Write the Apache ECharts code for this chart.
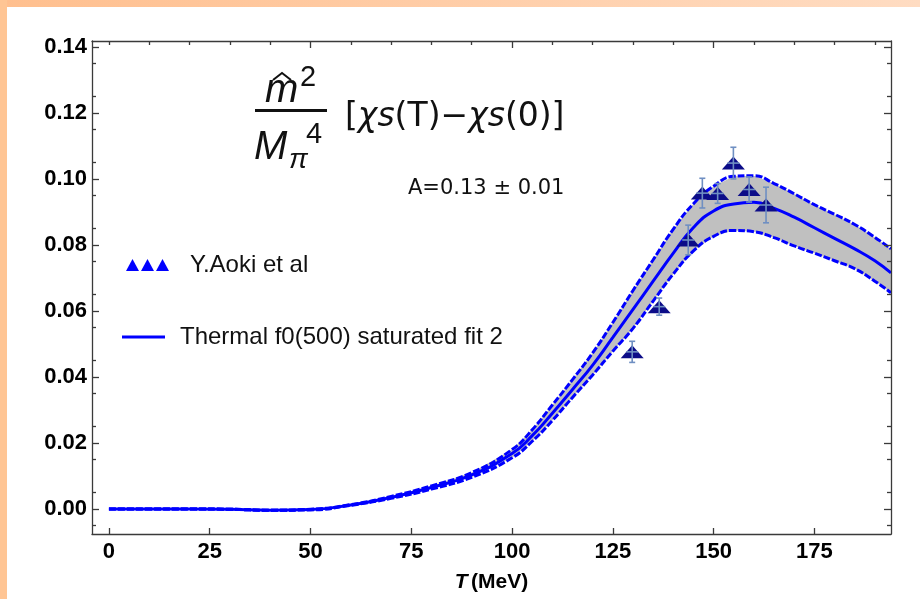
<!DOCTYPE html>
<html>
<head>
<meta charset="utf-8">
<script src="https://cdn.jsdelivr.net/npm/echarts@6/dist/echarts.min.js"></script>
<style>html,body{margin:0;padding:0;background:#fff;}#c{width:920px;height:599px;}</style>
</head>
<body>
<div id="c"></div>
<script>
// ---- data ----
var tempT = [0,10,20,30,40,50,60,70,80,90,100,105,110,115,120,125,130,135,140,145,150,155,160,165,170,175,180,185,190,194];
var fitCentral = [0,0,0,-0.0001,-0.0004,-0.0002,0.0012,0.0035,0.0065,0.0103,0.0168,0.0222,0.029,0.0362,0.0436,0.052,0.0605,0.069,0.0775,0.0853,0.0903,0.0924,0.0929,0.0911,0.0884,0.0852,0.082,0.0788,0.0752,0.0715];
var fitUpper = [0,0,0,-0.0001,-0.0004,-0.0001,0.0013,0.0038,0.007,0.011,0.018,0.024,0.0315,0.0392,0.0473,0.0565,0.0662,0.0755,0.0848,0.0925,0.0978,0.1008,0.101,0.0986,0.0955,0.0922,0.0893,0.0862,0.0823,0.0788];
var fitLower = [0,0,0,-0.0001,-0.0004,-0.0003,0.0011,0.0032,0.006,0.0096,0.0155,0.0205,0.0268,0.0338,0.0406,0.0478,0.0547,0.063,0.0712,0.0782,0.0826,0.0844,0.084,0.0822,0.0797,0.0775,0.0752,0.0728,0.069,0.0655];
var aokiT = [129.8,136.5,143.7,147.2,151.0,154.9,158.8,163.0];
var aokiY = [0.0476,0.0613,0.0815,0.0957,0.0956,0.1048,0.0968,0.0921];
var aokiErr = [0.0032,0.0026,0.0045,0.0045,0.003,0.0048,0.0038,0.0054];
var xMajorTicks = [0,25,50,75,100,125,150,175];
var xTopMajor = [50,100,150];
var xTopMinor = [0,10,20,30,40,60,70,80,90,110,120,130,140,160,170,180,190];
var yMajorTicks = [0,0.02,0.04,0.06,0.08,0.10,0.12,0.14];
var yMinorTicks = [-0.005,0.005,0.015,0.025,0.035,0.045,0.055,0.065,0.075,0.085,0.095,0.105,0.115,0.125,0.135];

function zip(a,b){return a.map(function(v,i){return [v,b[i]];});}

var FONT = 'Liberation Sans';
var X_MIN=-4.2, X_MAX=194, Y_MIN=-0.0076, Y_MAX=0.1418;
var frameColor = '#3a3a3a';

function xAxisDef(pos, ticks, len, showLine, showLabel){
  return {
    type:'value', min:X_MIN, max:X_MAX, position:pos, z:10,
    axisLine:{show:showLine, onZero:false, lineStyle:{color:frameColor,width:1.3}},
    axisTick:{show:true, inside:true, length:len, customValues:ticks, lineStyle:{color:frameColor,width:1.3}},
    axisLabel:{show:showLabel, customValues:ticks, color:'#000', fontFamily:FONT, fontWeight:'bold', fontSize:22, margin:7},
    splitLine:{show:false}
  };
}
function yAxisDef(pos, ticks, len, showLine, showLabel){
  return {
    type:'value', min:Y_MIN, max:Y_MAX, position:pos, z:10,
    axisLine:{show:showLine, onZero:false, lineStyle:{color:frameColor,width:1.3}},
    axisTick:{show:true, inside:true, length:len, customValues:ticks, lineStyle:{color:frameColor,width:1.3}},
    axisLabel:{show:showLabel, customValues:ticks, color:'#000', fontFamily:FONT, fontWeight:'bold', fontSize:22, margin:5,
      formatter:function(v){return v.toFixed(2);}},
    splitLine:{show:false}
  };
}

var xb = xAxisDef('bottom', xMajorTicks, 6, true, true);
xb.name = '{i|T} {b|(MeV)}';
xb.nameLocation = 'middle';
xb.nameGap = 38;
xb.nameTextStyle = {rich:{
  i:{fontFamily:FONT,fontWeight:'bold',fontStyle:'italic',fontSize:21,color:'#000'},
  b:{fontFamily:FONT,fontWeight:'bold',fontSize:21,color:'#000'}}};

var chart = echarts.init(document.getElementById('c'), null, {renderer:'canvas'});
chart.setOption({
  animation:false,
  backgroundColor:'#ffffff',
  grid:{left:92, top:41, right:29, bottom:65, containLabel:false, outerBoundsMode:'none'},
  xAxis:[ xb, xAxisDef('top', xTopMajor, 7, true, false), xAxisDef('top', xTopMinor, 4, false, false) ],
  yAxis:[ yAxisDef('left', yMajorTicks, 7, true, true), yAxisDef('left', yMinorTicks, 4, false, false),
          yAxisDef('right', yMajorTicks, 7, true, false), yAxisDef('right', yMinorTicks, 4, false, false) ],
  series:[
    {type:'custom', name:'band', data:[0], clip:true, silent:true, z:1,
     renderItem:function(params, api){
       var pts=[], i;
       for(i=0;i<tempT.length;i++) pts.push(api.coord([tempT[i], fitUpper[i]]));
       for(i=tempT.length-1;i>=0;i--) pts.push(api.coord([tempT[i], fitLower[i]]));
       return {type:'polygon', shape:{points:pts}, style:{fill:'#c0c0c0'}};
     }},
    {type:'line', name:'upper', data:zip(tempT, fitUpper), smooth:true, symbol:'none',
     lineStyle:{color:'#0000ff', width:3, type:[7,2]}, z:2},
    {type:'line', name:'lower', data:zip(tempT, fitLower), smooth:true, symbol:'none',
     lineStyle:{color:'#0000ff', width:3, type:[7,2]}, z:2},
    {type:'line', name:'Thermal f0(500) saturated fit 2', data:zip(tempT, fitCentral), smooth:true, symbol:'none',
     lineStyle:{color:'#0000ff', width:3}, z:3},
    {type:'scatter', name:'Y.Aoki et al', data:zip(aokiT, aokiY), symbol:'triangle', symbolSize:[23,13],
     itemStyle:{color:'#0c0c88', opacity:1}, z:4},
    {type:'custom', name:'err', data:aokiT.map(function(t,i){return [t, aokiY[i], aokiErr[i]];}), z:5,
     renderItem:function(params, api){
       var x=api.value(0), y=api.value(1), e=api.value(2);
       var p0=api.coord([x,y-e]), p1=api.coord([x,y+e]), pc=api.coord([x,y]);
       var st={stroke:'#6f8fc2', lineWidth:1.6};
       return {type:'group', children:[
         {type:'line', shape:{x1:p0[0],y1:p0[1],x2:p1[0],y2:p1[1]}, style:st},
         {type:'line', shape:{x1:p0[0]-3,y1:p0[1],x2:p0[0]+3,y2:p0[1]}, style:st},
         {type:'line', shape:{x1:p1[0]-3,y1:p1[1],x2:p1[0]+3,y2:p1[1]}, style:st},
         {type:'line', shape:{x1:pc[0]-6,y1:pc[1],x2:pc[0]+6,y2:pc[1]}, style:st}
       ]};
     }}
  ],
  graphic:[
    {type:'rect', left:0, top:0, shape:{width:920,height:7}, style:{fill:new echarts.graphic.LinearGradient(0,0,1,0,[{offset:0,color:'#ffbf8e'},{offset:1,color:'#ffdcc2'}])}, z:100},
    {type:'rect', left:0, top:0, shape:{width:7,height:599}, style:{fill:'#ffc594'}, z:100},
    // title formula
    {type:'text', x:265, y:91, style:{text:'m', font:'italic 40px "Liberation Sans"', fill:'#111', verticalAlign:'middle'}, z:50},
    {type:'polyline', shape:{points:[[273,80],[282,73],[291,80]]}, style:{stroke:'#111', lineWidth:2, fill:null}, z:50},
    {type:'text', x:300, y:78, style:{text:'2', font:'29px "Liberation Sans"', fill:'#111', verticalAlign:'middle'}, z:50},
    {type:'rect', shape:{x:255,y:109,width:72,height:3}, style:{fill:'#111'}, z:50},
    {type:'text', x:254, y:148, style:{text:'M', font:'italic 40px "Liberation Sans"', fill:'#111', verticalAlign:'middle'}, z:50},
    {type:'text', x:289, y:160, style:{text:'π', font:'italic 28px "Liberation Sans"', fill:'#111', verticalAlign:'middle'}, z:50},
    {type:'text', x:306, y:135, style:{text:'4', font:'29px "Liberation Sans"', fill:'#111', verticalAlign:'middle'}, z:50},
    {type:'text', x:345, y:117, style:{text:'[{i|χs}(T)−{i|χs}(0)]', font:'33px "DejaVu Sans"', fill:'#111', verticalAlign:'middle',
      rich:{i:{fontStyle:'italic', fontSize:33, fontFamily:'DejaVu Sans', fill:'#111'}}}, z:50},
    {type:'text', x:408, y:189, style:{text:'A=0.13 ± 0.01', font:'21px "DejaVu Sans"', fill:'#111', verticalAlign:'middle'}, z:50},
    // legend
    {type:'polygon', shape:{points:[[126,271],[132.5,259],[139,271]]}, style:{fill:'#0000ff'}, z:50},
    {type:'polygon', shape:{points:[[141,271],[147.5,259],[154,271]]}, style:{fill:'#0000ff'}, z:50},
    {type:'polygon', shape:{points:[[156,271],[162.5,259],[169,271]]}, style:{fill:'#0000ff'}, z:50},
    {type:'text', x:190, y:265, style:{text:'Y.Aoki et al', font:'24px "Liberation Sans"', fill:'#111', verticalAlign:'middle'}, z:50},
    {type:'line', shape:{x1:122,y1:337,x2:165,y2:337}, style:{stroke:'#0000ff', lineWidth:3}, z:50},
    {type:'text', x:180, y:337, style:{text:'Thermal f0(500) saturated fit 2', font:'24px "Liberation Sans"', fill:'#111', verticalAlign:'middle'}, z:50}
  ]
});
</script>
</body>
</html>
